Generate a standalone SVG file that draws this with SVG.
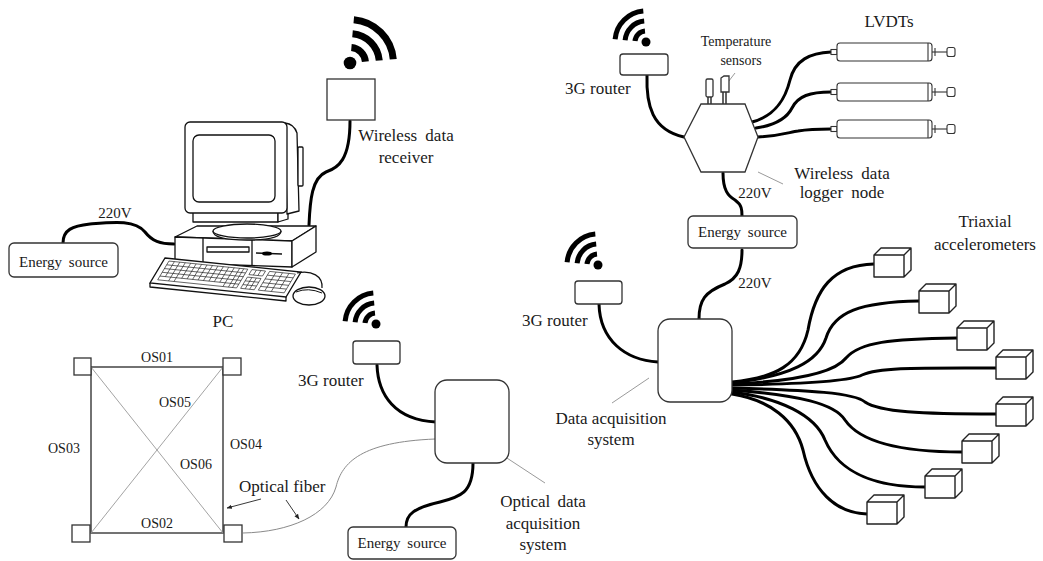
<svg xmlns="http://www.w3.org/2000/svg" width="1043" height="561" viewBox="0 0 1043 561">
<style>
  text{font-family:"Liberation Serif","Times New Roman",serif;fill:#1a1a1a}
  .t17{font-size:17px}
  .t15{font-size:15px}
  .t14{font-size:14px}
  .mid{text-anchor:middle}
  .box{fill:#fff;stroke:#333;stroke-width:1.3}
  .cable{fill:none;stroke:#000;stroke-width:3;stroke-linecap:round}
  .lead{fill:none;stroke:#808080;stroke-width:0.8}
  .pc{fill:#fff;stroke:#111;stroke-width:1.3;stroke-linejoin:round}
  .key{fill:none;stroke:#222;stroke-width:0.7}
  .cube{fill:#fff;stroke:#222;stroke-width:1.4;stroke-linejoin:round}
  .lvdt{fill:#fff;stroke:#333;stroke-width:1.1}
</style>
<defs>
  <g id="wifi">
    <circle r="4.5" fill="#000"/>
    <path d="M-11,-1 A11,11 0 0 1 -1,-11 M-20.9,-1.8 A21,21 0 0 1 -1.8,-20.9 M-30.9,-2.7 A31,31 0 0 1 -2.7,-30.9" fill="none" stroke="#000" stroke-width="5"/>
  </g>
  <g id="cube">
    <path class="cube" d="M0,0 H30 V22 H0 Z M0,0 L7,-7 H37 L30,0 M30,22 L37,15 V-7"/>
  </g>
  <g id="lvdt">
    <rect class="lvdt" x="0" y="-2.5" width="6" height="5"/>
    <rect class="lvdt" x="6" y="-9" width="95" height="18" rx="3"/>
    <line class="lvdt" x1="97" y1="-9" x2="97" y2="9"/>
    <line class="lvdt" x1="101" y1="0" x2="116" y2="0"/>
    <line class="lvdt" x1="104" y1="-4" x2="104" y2="4"/>
    <rect class="lvdt" x="116" y="-4.5" width="8" height="9" rx="2"/>
  </g>
  <marker id="arr" viewBox="0 0 10 10" refX="9" refY="5" markerWidth="6" markerHeight="6" orient="auto">
    <path d="M0,1 L10,5 L0,9 Z" fill="#222"/>
  </marker>
</defs>

<!-- connectors -->
<g id="connectors">
  <!-- PC side -->
  <path class="cable" d="M63,243 C63,230 72,226 90,224 C115,222 135,220 145,232 C152,241 160,244 174,244"/>
  <path class="cable" d="M350,121 C350,160 338,168 326,172 C312,178 310,200 309,225"/>
  <!-- optical system -->
  <path class="cable" d="M377,365 C378,395 395,420 436,422"/>
  <path class="cable" d="M473,463 C473,493 460,497 440,502 C414,508 406,514 406,527"/>
  <path d="M243,533 C290,532 328,515 336,487 C342,462 362,442 435,439" fill="none" stroke="#8a8a8a" stroke-width="1"/>
  <!-- wireless logger -->
  <path class="cable" d="M647,75 C646,105 652,130 684,137"/>
  <path class="cable" d="M723,173 C723,190 728,196 735,200 C742,205 742,210 742,216"/>
  <path class="cable" d="M752,122 C775,116 785,100 790,80 C795,60 810,53 831,52"/>
  <path class="cable" d="M756,128 C776,125 787,118 792,108 C798,96 810,92 831,92"/>
  <path class="cable" d="M758,137 C780,136 790,132 798,131 C810,129 820,129 831,129"/>
  <!-- data acquisition -->
  <path class="cable" d="M599,304 C600,340 625,360 658,362"/>
  <path class="cable" d="M742,250 C742,268 738,278 725,284 C705,292 699,300 699,319"/>
  <path class="cable" d="M732,382 C775,378 800,365 808,330 C815,290 832,265 874,264"/>
  <path class="cable" d="M732,383 C790,376 818,362 826,338 C834,312 860,302 919,301"/>
  <path class="cable" d="M732,384 C800,381 835,372 846,358 C860,342 890,339 957,338"/>
  <path class="cable" d="M732,385 C810,384 850,381 862,375 C880,367 920,368 996,368"/>
  <path class="cable" d="M732,388 C810,390 855,393 865,402 C880,412 920,414 996,414"/>
  <path class="cable" d="M732,390 C800,395 835,404 845,420 C860,442 900,452 962,452"/>
  <path class="cable" d="M732,392 C780,398 815,415 825,440 C840,475 880,487 925,487"/>
  <path class="cable" d="M732,394 C770,400 795,420 803,450 C812,490 835,513 867,514"/>
  <!-- leader lines -->
  <path class="lead" d="M758,172 L783,184"/>
  <path class="lead" d="M722,90 L735,73"/>
  <path class="lead" d="M612,403 L649,378"/>
  <path class="lead" d="M484,443 L545,483"/>
  <!-- fibre arrows -->
  <line x1="261" y1="499" x2="227" y2="508" stroke="#222" stroke-width="0.9" marker-end="url(#arr)"/>
  <line x1="286" y1="500" x2="299" y2="519" stroke="#222" stroke-width="0.9" marker-end="url(#arr)"/>
</g>

<!-- energy sources -->
<g id="energy-left">
  <rect class="box" x="9" y="243" width="109" height="34" rx="5"/>
  <text class="t15 mid" x="63.5" y="267" word-spacing="3">Energy source</text>
  <text class="t15 mid" x="115" y="218">220V</text>
</g>
<g id="energy-right">
  <rect class="box" x="688" y="216" width="109" height="32" rx="5"/>
  <text class="t15 mid" x="742.5" y="237" word-spacing="3">Energy source</text>
  <text class="t15 mid" x="755" y="198">220V</text>
  <text class="t15 mid" x="755" y="288">220V</text>
</g>
<g id="energy-bottom">
  <rect class="box" x="348" y="527" width="108" height="32" rx="5"/>
  <text class="t15 mid" x="402" y="548" word-spacing="3">Energy source</text>
</g>

<!-- wireless data receiver -->
<g id="receiver">
  <use href="#wifi" transform="translate(350,63) rotate(90) scale(1.4)"/>
  <rect class="box" x="327" y="79" width="48" height="41"/>
  <text class="t17 mid" x="406" y="141" word-spacing="4">Wireless data</text>
  <text class="t17 mid" x="406" y="163">receiver</text>
</g>

<!-- personal computer -->
<g id="pc">
  <!-- case -->
  <path class="pc" d="M175,237 L197,226 L316,226 L292,241 Z"/>
  <path class="pc" d="M175,237 L292,241 L292,267 L175,263 Z"/>
  <path class="pc" d="M292,241 L316,226 L316,252 L292,267 Z"/>
  <path class="pc" d="M203,238 V263 M252,240 V265"/>
  <rect class="pc" x="207" y="247" width="42" height="5"/>
  <path class="pc" d="M256,253 L282,254"/>
  <ellipse cx="267" cy="253.5" rx="5" ry="2" fill="#000"/>
  <!-- stand -->
  <path class="pc" d="M213,231 Q213,240 247,240 Q281,240 281,231"/>
  <ellipse class="pc" cx="247" cy="231" rx="34" ry="7"/>
  <!-- monitor -->
  <rect class="pc" x="193" y="212" width="85" height="10"/>
  <path class="pc" d="M278,212 L288,210 L288,219 L278,222 Z"/>
  <path class="pc" d="M285,123 Q294,124 297,133 L299,211 L287,214 Z"/>
  <rect class="pc" x="298" y="147" width="5" height="39" rx="1"/>
  <rect class="pc" x="185" y="122" width="102" height="91" rx="5"/>
  <rect class="pc" x="193" y="135" width="82" height="67" rx="6"/>
  <!-- keyboard -->
  <path class="pc" d="M150,283 L150,287 L286,301 L286,297"/>
  <g transform="matrix(1.36,0.14,-0.75,1.25,165,258)">
    <rect x="0" y="0" width="100" height="20" fill="#fff" stroke="#111" stroke-width="1.3" vector-effect="non-scaling-stroke"/>
    <path class="key" vector-effect="non-scaling-stroke" d="M4,2 H62 V17 H4 Z M4,5 H62 M4,8 H62 M4,11 H62 M4,14 H62 M8,2 V14 M12,2 V17 M16,2 V17 M20,2 V14 M24,2 V14 M28,2 V14 M32,2 V14 M36,2 V14 M40,2 V14 M44,2 V14 M48,2 V14 M52,2 V17 M56,2 V17 M59,2 V17"/>
    <path class="key" vector-effect="non-scaling-stroke" d="M65,2 H75 V6 H65 Z M68.3,2 V6 M71.6,2 V6 M65,8 H75 V17 H65 Z M65,11 H75 M65,14 H75 M68.3,8 V17 M71.6,8 V17"/>
    <path class="key" vector-effect="non-scaling-stroke" d="M78,2 H97 V17 H78 Z M78,5 H97 M78,8 H97 M78,11 H97 M78,14 H97 M82.75,2 V17 M87.5,2 V17 M92.25,2 V14"/>
  </g>
  <!-- mouse -->
  <path d="M297,273 C312,270 323,276 322,288" fill="none" stroke="#111" stroke-width="1.2"/>
  <ellipse class="pc" cx="309" cy="296" rx="16" ry="9"/>
  <path d="M296,292 Q308,287 322,293" fill="none" stroke="#111" stroke-width="1"/>
  <text class="t17 mid" x="223" y="327">PC</text>
</g>

<!-- optical sensor frame -->
<g id="sensor-frame">
  <rect x="91" y="367" width="132" height="166" fill="none" stroke="#444" stroke-width="1.5"/>
  <path d="M91,367 L223,533 M223,367 L91,533" stroke="#999" stroke-width="0.9"/>
  <rect class="box" x="74" y="358" width="17" height="17"/>
  <rect class="box" x="223" y="358" width="18" height="17"/>
  <rect class="box" x="72" y="525" width="18" height="17"/>
  <rect class="box" x="224" y="525" width="18" height="17"/>
  <text class="t14 mid" x="157" y="362">OS01</text>
  <text class="t14 mid" x="157" y="528">OS02</text>
  <text class="t14" x="48" y="453">OS03</text>
  <text class="t14" x="230" y="449">OS04</text>
  <text class="t14" x="159" y="407">OS05</text>
  <text class="t14" x="180" y="469">OS06</text>
  <text class="t17" x="239" y="492">Optical fiber</text>
</g>

<!-- optical data acquisition system -->
<g id="router-optical">
  <use href="#wifi" transform="translate(376,324)"/>
  <rect class="box" x="353" y="341" width="47" height="23" rx="3"/>
  <text class="t17" x="298" y="386">3G router</text>
</g>
<g id="optical-daq">
  <rect class="box" x="435" y="380" width="74" height="83" rx="12"/>
  <text class="t17 mid" x="543" y="507" word-spacing="3">Optical data</text>
  <text class="t17 mid" x="543" y="529">acquisition</text>
  <text class="t17 mid" x="543" y="550">system</text>
</g>

<!-- wireless data logger -->
<g id="router-logger">
  <use href="#wifi" transform="translate(646,42)"/>
  <rect class="box" x="620" y="54" width="48" height="21" rx="3"/>
  <text class="t17" x="565" y="94">3G router</text>
</g>
<g id="logger">
  <path class="pc" d="M708,97 V104 M711,97 V104 M723,92 V104 M726,92 V104"/>
  <rect class="box" x="706" y="79" width="7" height="18" rx="1.5"/>
  <path class="box" d="M721,78 L724,76 L729,76 L729,92 L721,92 Z"/>
  <path class="box" d="M701,104 L745,104 L758,137 L745,172 L701,172 L684,137 Z"/>
  <text class="t14 mid" x="736" y="46">Temperature</text>
  <text class="t14 mid" x="741" y="65">sensors</text>
  <text class="t17 mid" x="842" y="179" word-spacing="4">Wireless data</text>
  <text class="t17 mid" x="842" y="198" word-spacing="4">logger node</text>
</g>
<g id="lvdts">
  <use href="#lvdt" transform="translate(831,52)"/>
  <use href="#lvdt" transform="translate(831,92)"/>
  <use href="#lvdt" transform="translate(831,129)"/>
  <text class="t17 mid" x="889" y="27">LVDTs</text>
</g>

<!-- data acquisition system -->
<g id="router-daq">
  <use href="#wifi" transform="translate(598,265)"/>
  <rect class="box" x="575" y="281" width="47" height="23" rx="3"/>
  <text class="t17" x="522" y="326">3G router</text>
</g>
<g id="daq">
  <rect class="box" x="658" y="319" width="74" height="83" rx="12"/>
  <text class="t17 mid" x="611" y="424">Data acquisition</text>
  <text class="t17 mid" x="611" y="445">system</text>
</g>
<g id="accelerometers">
  <use href="#cube" transform="translate(874,255)"/>
  <use href="#cube" transform="translate(919,291)"/>
  <use href="#cube" transform="translate(957,328)"/>
  <use href="#cube" transform="translate(996,357)"/>
  <use href="#cube" transform="translate(996,404)"/>
  <use href="#cube" transform="translate(962,441)"/>
  <use href="#cube" transform="translate(925,476)"/>
  <use href="#cube" transform="translate(867,502)"/>
  <text class="t17 mid" x="985" y="227">Triaxial</text>
  <text class="t17 mid" x="985" y="250">accelerometers</text>
</g>
</svg>
